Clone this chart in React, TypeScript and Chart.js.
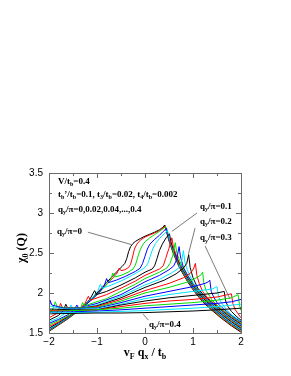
import React, { useEffect, useRef } from 'react';
import { Chart, registerables } from 'chart.js';

Chart.register(...registerables);

type Pt = [number, number];

// q_y / pi values of the 21 curves
const qyValues = ['0', '0.02', '0.04', '0.06', '0.08', '0.1', '0.12', '0.14', '0.16', '0.18', '0.2',
  '0.22', '0.24', '0.26', '0.28', '0.3', '0.32', '0.34', '0.36', '0.38', '0.4'];
const lineColors = ['#000000', '#ff0000', '#00dd00', '#0000ff', '#00e5ff'];
const xTickLabels = [-2, -1, 0, 1, 2];
const yTickLabels = [1.5, 2, 2.5, 3, 3.5];

const q00: Pt[] = [[-2,1.52],[-1.8,1.6],[-1.6,1.68],[-1.4,1.77],[-1.2,1.88],[-1.0,2.0],[-0.8,2.13],[-0.6,2.26],[-0.48,2.33],[-0.42,2.37],[-0.38,2.43],[-0.34,2.52],[-0.3,2.58],[-0.25,2.62],[-0.2,2.645],[-0.1,2.68],[0,2.71],[0.1,2.735],[0.2,2.76],[0.3,2.79],[0.37,2.82],[0.41,2.85],[0.45,2.76],[0.5,2.65],[0.6,2.48],[0.7,2.34],[0.8,2.23],[0.9,2.13],[1.0,2.04],[1.2,1.89],[1.4,1.78],[1.6,1.68],[1.8,1.59],[2.0,1.51]];
const q02: Pt[] = [[-2,1.525],[-1.8,1.605],[-1.6,1.685],[-1.3,1.82],[-1.0,1.99],[-0.8,2.11],[-0.65,2.2],[-0.58,2.25],[-0.54,2.31],[-0.5,2.28],[-0.42,2.29],[-0.34,2.32],[-0.3,2.36],[-0.26,2.45],[-0.22,2.55],[-0.17,2.61],[-0.1,2.66],[0,2.7],[0.1,2.725],[0.2,2.75],[0.3,2.78],[0.38,2.815],[0.42,2.84],[0.46,2.75],[0.5,2.66],[0.6,2.49],[0.7,2.35],[0.8,2.24],[0.9,2.14],[1.0,2.05],[1.2,1.9],[1.4,1.79],[1.6,1.69],[1.8,1.6],[2.0,1.52]];
const q04: Pt[] = [[-2,1.53],[-1.8,1.61],[-1.6,1.69],[-1.3,1.82],[-1.0,1.98],[-0.85,2.07],[-0.72,2.16],[-0.67,2.25],[-0.63,2.2],[-0.5,2.22],[-0.35,2.26],[-0.25,2.3],[-0.2,2.35],[-0.15,2.45],[-0.1,2.54],[-0.05,2.6],[0,2.64],[0.1,2.69],[0.2,2.73],[0.3,2.77],[0.38,2.805],[0.43,2.83],[0.47,2.74],[0.52,2.64],[0.6,2.5],[0.7,2.36],[0.8,2.25],[0.9,2.15],[1.0,2.06],[1.2,1.91],[1.4,1.8],[1.6,1.7],[1.8,1.61],[2.0,1.53]];
const q06: Pt[] = [[-2,1.54],[-1.8,1.615],[-1.6,1.695],[-1.3,1.82],[-1.1,1.92],[-0.95,2.01],[-0.85,2.09],[-0.8,2.18],[-0.76,2.13],[-0.6,2.16],[-0.4,2.21],[-0.2,2.27],[-0.1,2.31],[-0.05,2.37],[0,2.46],[0.05,2.55],[0.1,2.61],[0.2,2.67],[0.3,2.72],[0.38,2.77],[0.45,2.81],[0.48,2.72],[0.53,2.63],[0.6,2.51],[0.7,2.37],[0.8,2.26],[0.9,2.16],[1.0,2.07],[1.2,1.92],[1.4,1.81],[1.6,1.71],[1.8,1.62],[2.0,1.54]];
const q08: Pt[] = [[-2,1.55],[-1.8,1.62],[-1.6,1.7],[-1.3,1.82],[-1.1,1.94],[-0.98,2.03],[-0.93,2.11],[-0.89,2.06],[-0.7,2.1],[-0.5,2.15],[-0.3,2.21],[-0.1,2.28],[0,2.32],[0.06,2.37],[0.11,2.46],[0.16,2.55],[0.22,2.62],[0.3,2.68],[0.4,2.74],[0.47,2.78],[0.5,2.7],[0.55,2.6],[0.6,2.52],[0.7,2.38],[0.8,2.27],[0.9,2.17],[1.0,2.08],[1.2,1.93],[1.4,1.82],[1.6,1.72],[1.8,1.63],[2.0,1.55]];
const q10: Pt[] = [[-2,1.56],[-1.8,1.63],[-1.6,1.705],[-1.3,1.82],[-1.15,1.92],[-1.05,2.03],[-1.01,1.98],[-0.8,2.02],[-0.5,2.1],[-0.2,2.19],[0,2.26],[0.15,2.3],[0.2,2.34],[0.25,2.43],[0.3,2.53],[0.36,2.61],[0.44,2.69],[0.51,2.74],[0.54,2.64],[0.6,2.53],[0.7,2.39],[0.8,2.28],[0.9,2.18],[1.0,2.09],[1.2,1.94],[1.4,1.83],[1.6,1.73],[1.8,1.64],[2.0,1.56]];
const q12: Pt[] = [[-2,1.58],[-1.8,1.64],[-1.6,1.71],[-1.4,1.78],[-1.25,1.87],[-1.18,1.96],[-1.14,1.91],[-0.8,1.98],[-0.5,2.06],[-0.2,2.15],[0,2.22],[0.3,2.3],[0.38,2.34],[0.43,2.43],[0.5,2.56],[0.56,2.69],[0.59,2.58],[0.64,2.49],[0.7,2.4],[0.8,2.29],[0.9,2.19],[1.0,2.1],[1.2,1.95],[1.4,1.84],[1.6,1.74],[1.8,1.65],[2.0,1.57]];
const q14: Pt[] = [[-2,1.6],[-1.8,1.655],[-1.6,1.715],[-1.4,1.78],[-1.33,1.83],[-1.3,1.88],[-1.26,1.84],[-0.8,1.93],[-0.5,2.02],[-0.2,2.11],[0,2.18],[0.3,2.26],[0.45,2.31],[0.52,2.37],[0.58,2.47],[0.63,2.63],[0.66,2.51],[0.71,2.42],[0.8,2.3],[0.9,2.2],[1.0,2.11],[1.2,1.96],[1.4,1.85],[1.6,1.75],[1.8,1.66],[2.0,1.58]];
const q16: Pt[] = [[-2,1.62],[-1.8,1.67],[-1.6,1.73],[-1.47,1.79],[-1.42,1.85],[-1.38,1.81],[-1.0,1.87],[-0.5,1.98],[0,2.14],[0.3,2.22],[0.5,2.29],[0.6,2.34],[0.66,2.42],[0.71,2.58],[0.74,2.45],[0.8,2.32],[0.9,2.21],[1.0,2.12],[1.2,1.97],[1.4,1.86],[1.6,1.76],[1.8,1.67],[2.0,1.59]];
const q18: Pt[] = [[-2,1.64],[-1.8,1.69],[-1.6,1.77],[-1.54,1.85],[-1.5,1.8],[-1.0,1.85],[-0.5,1.96],[0,2.1],[0.3,2.17],[0.55,2.25],[0.7,2.31],[0.76,2.38],[0.8,2.53],[0.83,2.39],[0.88,2.29],[0.95,2.2],[1.0,2.13],[1.1,2.05],[1.2,1.98],[1.4,1.87],[1.6,1.77],[1.8,1.68],[2.0,1.6]];
const q20: Pt[] = [[-2,1.66],[-1.8,1.72],[-1.7,1.78],[-1.65,1.86],[-1.61,1.81],[-1.3,1.81],[-1.0,1.84],[-0.5,1.94],[0,2.07],[0.4,2.16],[0.65,2.24],[0.8,2.31],[0.87,2.37],[0.91,2.48],[0.94,2.32],[1.0,2.19],[1.1,2.06],[1.2,1.99],[1.3,1.93],[1.4,1.88],[1.6,1.78],[1.8,1.69],[2.0,1.61]];
const q22: Pt[] = [[-2,1.69],[-1.85,1.74],[-1.8,1.79],[-1.76,1.87],[-1.72,1.82],[-1.5,1.81],[-1.0,1.83],[-0.5,1.92],[0,2.03],[0.5,2.12],[0.8,2.19],[0.95,2.25],[1.01,2.3],[1.05,2.37],[1.08,2.22],[1.13,2.12],[1.2,2.02],[1.3,1.94],[1.4,1.89],[1.6,1.79],[1.8,1.7],[2.0,1.62]];
const q24: Pt[] = [[-2,1.73],[-1.92,1.8],[-1.87,1.89],[-1.83,1.83],[-1.6,1.81],[-1.0,1.82],[-0.5,1.9],[0,2.0],[0.5,2.07],[0.9,2.14],[1.1,2.2],[1.17,2.23],[1.2,2.26],[1.23,2.11],[1.28,2.02],[1.35,1.96],[1.4,1.91],[1.5,1.85],[1.6,1.8],[1.8,1.71],[2.0,1.63]];
const q26: Pt[] = [[-2,1.86],[-1.98,1.91],[-1.94,1.85],[-1.7,1.81],[-1.0,1.81],[-0.5,1.88],[0,1.96],[0.5,2.02],[1.0,2.08],[1.25,2.12],[1.32,2.14],[1.35,2.16],[1.38,2.02],[1.43,1.95],[1.5,1.88],[1.6,1.82],[1.7,1.77],[1.8,1.72],[1.9,1.68],[2.0,1.64]];
const q28: Pt[] = [[-2,1.84],[-1.7,1.8],[-1.0,1.8],[-0.5,1.86],[0,1.93],[0.5,1.98],[1.0,2.02],[1.4,2.05],[1.47,2.07],[1.5,2.08],[1.53,1.96],[1.58,1.89],[1.65,1.83],[1.7,1.79],[1.8,1.73],[1.9,1.69],[2.0,1.65]];
const q30: Pt[] = [[-2,1.8],[-1.5,1.79],[-1.0,1.79],[-0.5,1.85],[0,1.9],[0.5,1.94],[1.0,1.97],[1.5,2.0],[1.65,2.02],[1.68,1.9],[1.73,1.83],[1.8,1.77],[1.9,1.71],[2.0,1.66]];
const q32: Pt[] = [[-2,1.78],[-1.5,1.78],[-1.0,1.79],[-0.5,1.83],[0,1.87],[0.5,1.9],[1.0,1.92],[1.5,1.95],[1.8,1.99],[1.83,1.87],[1.88,1.79],[1.94,1.74],[2.0,1.69]];
const q34: Pt[] = [[-2,1.77],[-1.5,1.78],[-1.0,1.79],[-0.5,1.81],[0,1.84],[0.5,1.86],[1.0,1.88],[1.5,1.91],[1.8,1.94],[1.94,1.98],[1.97,1.85],[2.0,1.78]];
const q36: Pt[] = [[-2,1.76],[-1.5,1.765],[-1.0,1.775],[-0.5,1.79],[0,1.81],[0.5,1.83],[1.0,1.85],[1.5,1.87],[1.8,1.89],[2.0,1.92]];
const q38: Pt[] = [[-2,1.75],[-1.5,1.755],[-1.0,1.76],[-0.5,1.77],[0,1.78],[0.5,1.795],[1.0,1.81],[1.5,1.83],[2.0,1.86]];
const q40: Pt[] = [[-2,1.74],[-1.5,1.745],[-1.0,1.75],[-0.5,1.75],[0,1.755],[0.5,1.765],[1.0,1.775],[1.5,1.79],[2.0,1.81]];

const curves: Pt[][] = [q00, q02, q04, q06, q08, q10, q12, q14, q16, q18, q20, q22, q24, q26, q28, q30, q32, q34, q36, q38, q40];

type Seg = { t: string; sub?: boolean };

// annotation texts: [segments, x(px), baseline y(px)]
const headerLines: [Seg[], number, number][] = [
  [[{ t: 'V/t' }, { t: 'b', sub: true }, { t: '=0.4' }], 58, 183.5],
  [[{ t: 't' }, { t: 'b', sub: true }, { t: '\u2019/t' }, { t: 'b', sub: true }, { t: '=0.1, t' }, { t: '3', sub: true }, { t: '/t' }, { t: 'b', sub: true }, { t: '=0.02, t' }, { t: '4', sub: true }, { t: '/t' }, { t: 'b', sub: true }, { t: '=0.002' }], 58, 196.5],
  [[{ t: 'q' }, { t: 'y', sub: true }, { t: '/\u03c0=0,0.02,0.04,...,0.4' }], 58, 211.5],
];
const curveLabels: [string, number, number][] = [
  ['0', 57, 233.5],
  ['0.1', 200, 208.5],
  ['0.2', 200, 223.5],
  ['0.3', 200, 240],
  ['0.4', 149, 326.5],
];
// arrows in data coordinates: [fromX, fromY, toX, toY]
const arrows: [number, number, number, number][] = [
  [-1.19, 2.76, -0.28, 2.605],
  [1.083, 3.0, 0.56, 2.77],
  [1.042, 2.81, 0.906, 2.49],
  [1.25, 2.59, 1.77, 1.925],
  [0.073, 1.66, -0.04, 1.735],
];

const SERIF = '"Liberation Serif", "DejaVu Serif", serif';
const SANS = '"Liberation Sans", Arial, sans-serif';

function drawRich(ctx: CanvasRenderingContext2D, segs: Seg[], x: number, y: number, size: number, align: 'left' | 'center') {
  const main = `bold ${size}px ${SERIF}`;
  const subSize = Math.round(size * 0.7);
  const subF = `bold ${subSize}px ${SERIF}`;
  let w = 0;
  for (const s of segs) {
    ctx.font = s.sub ? subF : main;
    w += ctx.measureText(s.t).width;
  }
  let cx = align === 'center' ? x - w / 2 : x;
  ctx.textAlign = 'left';
  ctx.textBaseline = 'alphabetic';
  for (const s of segs) {
    ctx.font = s.sub ? subF : main;
    ctx.fillText(s.t, cx, y + (s.sub ? size * 0.28 : 0));
    cx += ctx.measureText(s.t).width;
  }
}

const overlay = {
  id: 'overlay',
  afterDraw(chart: any) {
    const { ctx, chartArea: a, scales } = chart;
    const xs = scales.x;
    const ys = scales.y;
    ctx.save();
    // frame
    ctx.strokeStyle = '#6a6a6a';
    ctx.lineWidth = 1;
    ctx.strokeRect(Math.round(a.left) + 0.5, Math.round(a.top) + 0.5, Math.round(a.right - a.left), Math.round(a.bottom - a.top));
    // inward ticks
    ctx.beginPath();
    for (let i = 0; i <= 8; i++) {
      const v = -2 + i * 0.5;
      const px = Math.round(xs.getPixelForValue(v)) + 0.5;
      const len = i % 2 === 0 ? 5 : 3;
      ctx.moveTo(px, a.bottom); ctx.lineTo(px, a.bottom - len);
      ctx.moveTo(px, a.top); ctx.lineTo(px, a.top + len);
    }
    for (let i = 0; i <= 8; i++) {
      const v = 1.5 + i * 0.25;
      const py = Math.round(ys.getPixelForValue(v)) + 0.5;
      const len = i % 2 === 0 ? 5 : 3;
      ctx.moveTo(a.left, py); ctx.lineTo(a.left + len, py);
      ctx.moveTo(a.right, py); ctx.lineTo(a.right - len, py);
    }
    ctx.stroke();

    // arrows
    ctx.strokeStyle = '#7a7a7a';
    ctx.beginPath();
    for (const [x0, y0, x1, y1] of arrows) {
      ctx.moveTo(xs.getPixelForValue(x0), ys.getPixelForValue(y0));
      ctx.lineTo(xs.getPixelForValue(x1), ys.getPixelForValue(y1));
    }
    ctx.stroke();

    ctx.fillStyle = '#000';
    for (const [segs, x, y] of headerLines) drawRich(ctx, segs, x, y, 9, 'left');
    for (const [val, x, y] of curveLabels) {
      drawRich(ctx, [{ t: 'q' }, { t: 'y', sub: true }, { t: '/\u03c0=' + val }], x, y, 9, 'left');
    }

    // x axis title
    drawRich(ctx, [{ t: 'v' }, { t: 'F', sub: true }, { t: ' q' }, { t: 'x', sub: true }, { t: ' / t' }, { t: 'b', sub: true }], (a.left + a.right) / 2, 356, 12, 'center');
    // y axis title
    ctx.save();
    ctx.translate(25, 248);
    ctx.rotate(-Math.PI / 2);
    drawRich(ctx, [{ t: '\u03c7' }, { t: '0', sub: true }, { t: ' (Q)' }], 0, 0, 12, 'center');
    ctx.restore();
    ctx.restore();
  },
};

export default function App() {
  const ref = useRef<HTMLCanvasElement | null>(null);
  useEffect(() => {
    if (!ref.current) return;
    const n = curves.length;
    const chart = new Chart(ref.current, {
      type: 'line',
      data: {
        datasets: curves.map((c, i) => ({
          label: 'qy/pi=' + qyValues[i],
          data: c.map(([x, y]) => ({ x, y })),
          borderColor: lineColors[i % lineColors.length],
          backgroundColor: lineColors[i % lineColors.length],
          borderWidth: 1,
          pointRadius: 0,
          fill: false,
          tension: 0,
          order: n - i,
        })),
      },
      options: {
        animation: false,
        responsive: false,
        maintainAspectRatio: false,
        layout: { padding: { left: 0, top: 173, right: 50, bottom: 0 } },
        plugins: { legend: { display: false }, tooltip: { enabled: false } },
        scales: {
          x: {
            type: 'linear',
            min: -2,
            max: 2,
            grid: { display: false, drawTicks: false },
            border: { display: false },
            afterBuildTicks: (axis: any) => { axis.ticks = xTickLabels.map((v) => ({ value: v })); },
            afterFit: (s: any) => { s.height = 43; },
            ticks: {
              autoSkip: false,
              maxRotation: 0,
              padding: 3,
              color: '#000',
              font: { family: SANS, size: 10 },
              callback: (v: any) => (Number(v) < 0 ? '\u2212' + Math.abs(Number(v)) : String(v)),
            },
          },
          y: {
            type: 'linear',
            min: 1.5,
            max: 3.5,
            grid: { display: false, drawTicks: false },
            border: { display: false },
            afterBuildTicks: (axis: any) => { axis.ticks = yTickLabels.map((v) => ({ value: v })); },
            afterFit: (s: any) => { s.width = 49; },
            ticks: {
              autoSkip: false,
              padding: 6,
              color: '#000',
              font: { family: SANS, size: 10 },
              callback: (v: any) => String(v),
            },
          },
        },
      },
      plugins: [overlay],
    });
    return () => chart.destroy();
  }, []);
  return (
    <div style={{ position: 'fixed', left: 0, top: 0, width: 291, height: 376, background: '#fff' }}>
      <canvas ref={ref} width={291} height={376} style={{ display: 'block', width: 291, height: 376 }} />
    </div>
  );
}
